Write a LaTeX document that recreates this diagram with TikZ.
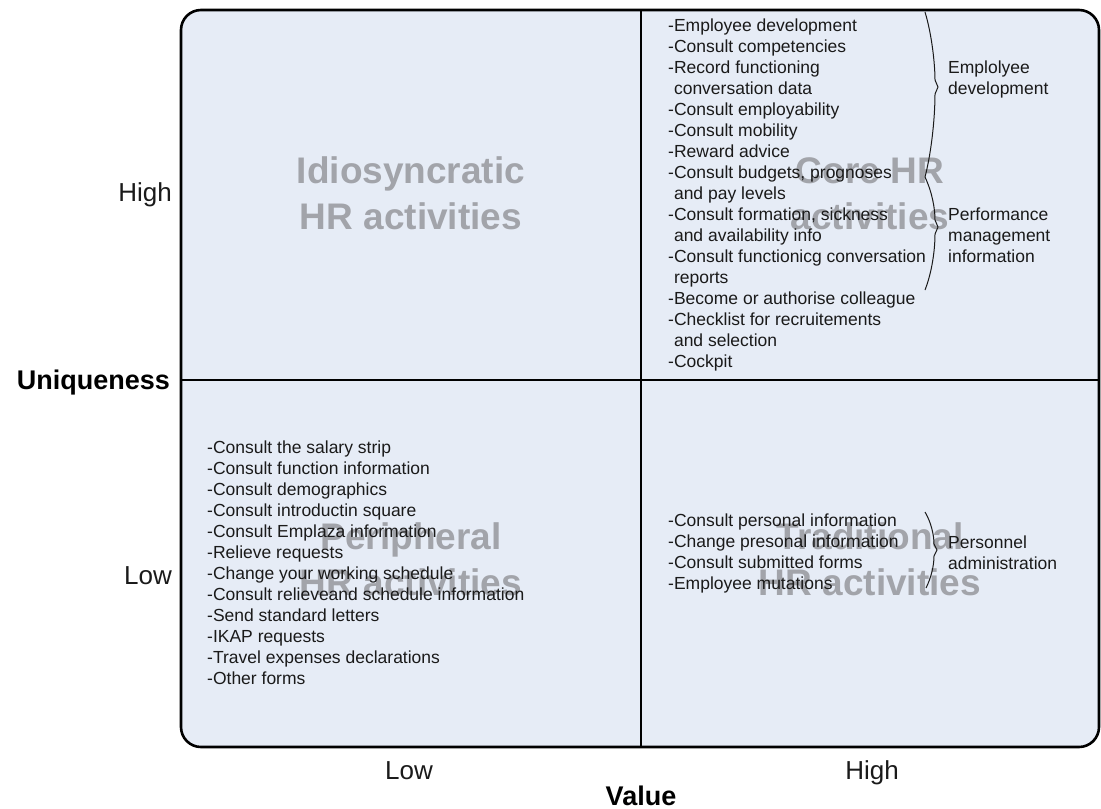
\documentclass[tikz,border=0pt]{standalone}
\usepackage{fontspec}
\setmainfont{Liberation Sans}
\definecolor{quadfill}{RGB}{230,236,246}
\definecolor{biggrey}{RGB}{162,164,170}
\definecolor{txt}{RGB}{26,26,26}
\newcommand{\contind}{\phantom{-}}
\tikzset{
  frame/.style={line width=2.6pt, draw=black},
  biglabel/.style={font=\fontsize{37}{46}\selectfont\bfseries, text=biggrey, align=center, inner sep=0pt},
  listtext/.style={font=\fontsize{17.5}{21}\selectfont, text=txt, align=left, inner sep=0pt, anchor=north west},
  axislabel/.style={font=\fontsize{26}{30}\selectfont, text=txt, inner sep=0pt},
  axistitle/.style={font=\fontsize{27}{30}\selectfont\bfseries, text=black, inner sep=0pt},
  bracepath/.style={line width=1pt, draw=txt}
}
\begin{document}
\begin{tikzpicture}[x=1pt,y=-1pt]
\useasboundingbox (0,0) rectangle (1101,809);
% quadrant background and frame
\draw[frame, fill=quadfill, rounded corners=20pt] (181,10) rectangle (1099,747);
\draw[frame] (641,10) -- (641,747);
\draw[frame] (181,380) -- (1099,380);

% big grey quadrant labels
\node[biglabel] (idio) at (411,193) {Idiosyncratic\\HR activities};
\node[biglabel] (core) at (870,194) {Core HR\\activities};
\node[biglabel] (peri) at (411,559) {Peripheral\\HR activities};
\node[biglabel] (trad) at (870,559) {Traditional\\HR activities};

% lists
\node[listtext] (corelist) at (668,16) {\rule{0pt}{15pt}-Employee development\\
-Consult competencies\\
-Record functioning\\
\contind conversation data\\
-Consult employability\\
-Consult mobility\\
-Reward advice\\
-Consult budgets, prognoses\\
\contind and pay levels\\
-Consult formation, sickness\\
\contind and availability info\\
-Consult functionicg conversation\\
\contind reports\\
-Become or authorise colleague\\
-Checklist for recruitements\\
\contind and selection\\
-Cockpit};

\node[listtext] (perilist) at (207,438) {\rule{0pt}{15pt}-Consult the salary strip\\
-Consult function information\\
-Consult demographics\\
-Consult introductin square\\
-Consult Emplaza information\\
-Relieve requests\\
-Change your working schedule\\
-Consult relieveand schedule information\\
-Send standard letters\\
-IKAP requests\\
-Travel expenses declarations\\
-Other forms};

\node[listtext] (tradlist) at (668,511) {\rule{0pt}{15pt}-Consult personal information\\
-Change presonal information\\
-Consult submitted forms\\
-Employee mutations};

% brace labels
\node[listtext] (empdev) at (948,58) {\rule{0pt}{15pt}Emplolyee\\development};
\node[listtext] (perfman) at (948,205) {\rule{0pt}{15pt}Performance\\management\\information};
\node[listtext] (persadm) at (948,533) {\rule{0pt}{15pt}Personnel\\administration};

% braces
\draw[bracepath] (925,12) .. controls (932,35) and (935,65) .. (935,80) -- (938,87) -- (935,94) .. controls (935,115) and (932,150) .. (925,177);
\draw[bracepath] (925,177) .. controls (932,192) and (935,208) .. (935,220) -- (938,227) -- (935,234) .. controls (935,250) and (932,272) .. (925,290);
\draw[bracepath] (925,512) .. controls (931,522) and (934,535) .. (934,544) -- (937,550) -- (934,556) .. controls (934,566) and (931,578) .. (926,588);

% axis labels
\node[axislabel, anchor=base east] (yhigh) at (172,201) {High};
\node[axistitle, anchor=base east] (ytitle) at (170,389) {Uniqueness};
\node[axislabel, anchor=base east] (ylow) at (172,584) {Low};
\node[axislabel, anchor=base] (xlow) at (409,779) {Low};
\node[axislabel, anchor=base] (xhigh) at (872,779) {High};
\node[axistitle, anchor=base] (xtitle) at (641,805) {Value};
\end{tikzpicture}
\end{document}
